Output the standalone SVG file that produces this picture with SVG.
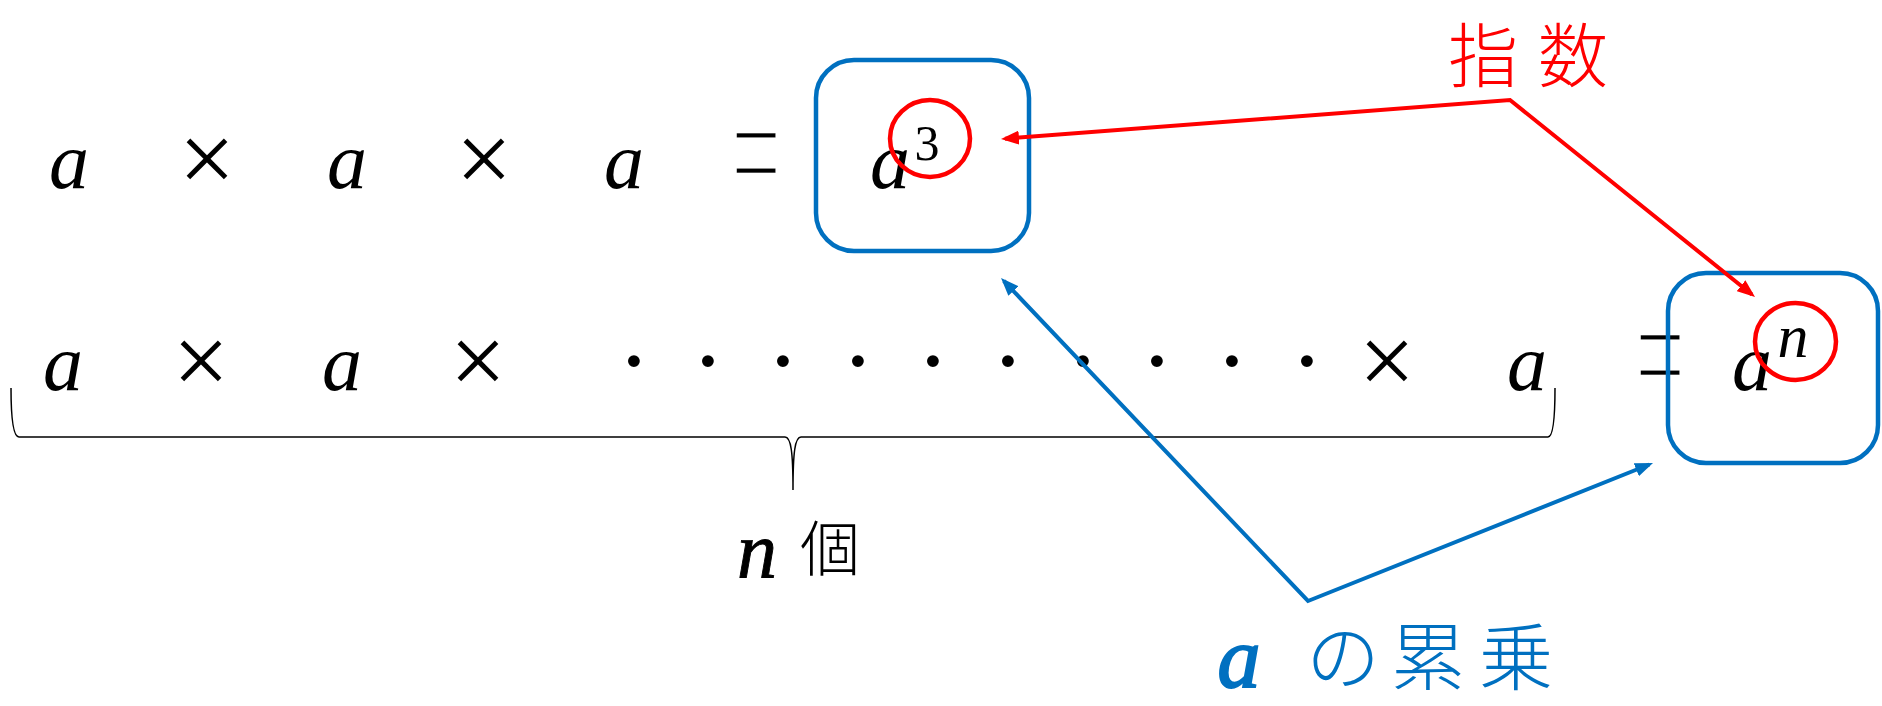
<svg xmlns="http://www.w3.org/2000/svg" width="1882" height="706" viewBox="0 0 1882 706">
<style>
.m{font-family:"Liberation Serif",serif;font-style:italic;font-size:80px;fill:#000;text-anchor:middle}
.op{font-family:"Liberation Serif",serif;font-size:100px;fill:#000;text-anchor:middle}
.eq{font-family:"Liberation Serif",serif;font-size:88px;fill:#000;text-anchor:middle;stroke:#fff;stroke-width:2.2}
.num{font-family:"Liberation Serif",serif;font-size:50px;fill:#000;text-anchor:middle}
.cjk{font-family:"Noto Sans CJK JP","Noto Sans CJK SC",sans-serif;text-anchor:middle}
.box{fill:none;stroke:#0070C0;stroke-width:4.5}
.ring{fill:none;stroke:#FF0000;stroke-width:4.5}
.red{fill:none;stroke:#FF0000;stroke-width:4;stroke-linejoin:miter}
.blue{fill:none;stroke:#0070C0;stroke-width:4;stroke-linejoin:miter}
</style>
<defs>
<marker id="ar" viewBox="0 0 18 14" refX="14" refY="7" markerWidth="18" markerHeight="14" markerUnits="userSpaceOnUse" orient="auto-start-reverse"><path d="M0,0 L18,7 L0,14 z" fill="#FF0000"/></marker>
<marker id="ab" viewBox="0 0 18 14" refX="14" refY="7" markerWidth="18" markerHeight="14" markerUnits="userSpaceOnUse" orient="auto-start-reverse"><path d="M0,0 L18,7 L0,14 z" fill="#0070C0"/></marker>
</defs>
<rect width="1882" height="706" fill="#fff"/>
<g id="row1">
<text class="m" x="69" y="188">a</text>
<text class="op" x="207" y="192">×</text>
<text class="m" x="347" y="188">a</text>
<text class="op" x="484" y="192">×</text>
<text class="m" x="624" y="188">a</text>
<text class="eq" x="756" y="186" transform="translate(756,161) scale(1,2) translate(-756,-161)">=</text>
</g>
<g id="box1">
<rect class="box" x="816" y="60" width="213" height="191" rx="38"/>
<text class="m" x="890" y="188">a</text>
<text class="num" x="927" y="160">3</text>
<ellipse class="ring" cx="930" cy="138.5" rx="40" ry="38.5"/>
</g>
<g id="row2">
<text class="m" x="63" y="390">a</text>
<text class="op" x="201" y="394">×</text>
<text class="m" x="342" y="390">a</text>
<text class="op" x="478" y="394">×</text>
<text class="m" style="font-style:normal;font-size:100px" x="634 708 783 858 933 1008 1083 1157 1232 1307" y="394">··········</text>
<text class="op" x="1387" y="394">×</text>
<text class="m" x="1527" y="390">a</text>
<text class="eq" x="1660" y="388" transform="translate(1660,363) scale(1,2) translate(-1660,-363)">=</text>
</g>
<g id="box2">
<rect class="box" x="1668" y="273" width="210" height="190" rx="38"/>
<text class="m" x="1752" y="390">a</text>
<text class="m" x="1793" y="357" style="font-size:62px">n</text>
<ellipse class="ring" cx="1795.5" cy="341.5" rx="40.5" ry="38.5"/>
</g>
<g id="brace">
<path d="M11,388 C11,418 13,437 19,437 L785,437 C791,437 793,452 793,490 C793,452 795,437 801,437 L1548,437 C1553,437 1555,418 1555,388" fill="none" stroke="#000" stroke-width="1.5"/>
</g>
<g id="label-n">
<text class="m" x="757" y="577" style="stroke:#000;stroke-width:0.9">n</text>
<text class="cjk" x="830" y="571" style="font-size:60px;font-weight:300">個</text>
</g>
<g id="label-shisu">
<text class="cjk" x="1483 1573" y="82" style="font-size:70px;font-weight:300;fill:#FF0000">指数</text>
</g>
<g id="label-ruijo">
<text class="m" x="1239" y="687" style="font-size:86px;fill:#0070C0;stroke:#0070C0;stroke-width:2">a</text>
<text class="cjk" x="1343 1428 1516" y="684" style="font-size:74px;font-weight:300;fill:#0070C0">の累乗</text>
</g>
<g id="connectors">
<path class="red" d="M1005,138.7 L1510,100 L1751.9,294.5" marker-start="url(#ar)" marker-end="url(#ar)"/>
<path class="blue" d="M1003.8,280.9 L1308,601 L1649.3,464.5" marker-start="url(#ab)" marker-end="url(#ab)"/>
</g>
</svg>
